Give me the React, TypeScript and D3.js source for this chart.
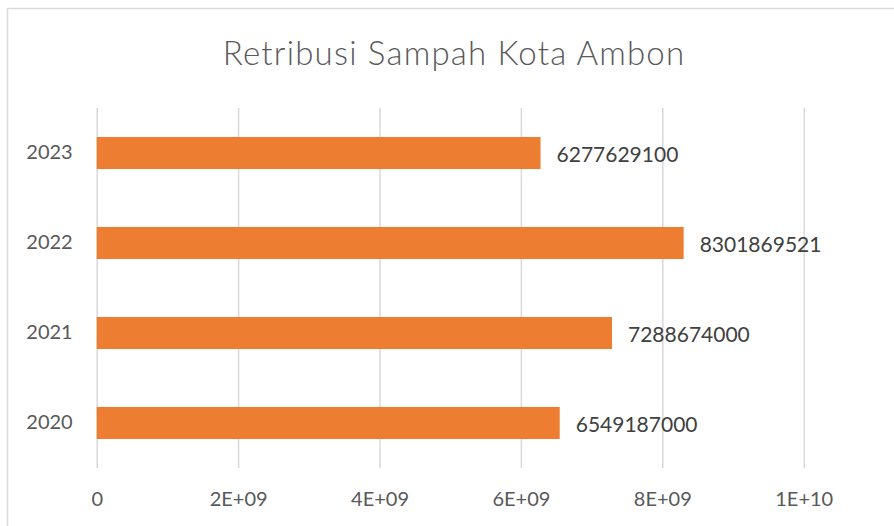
import { useRef, useEffect } from "react";
import { select, scaleLinear, scaleBand, axisBottom, axisLeft } from "d3";

const years = ["2023", "2022", "2021", "2020"];
const values = [6277629100, 8301869521, 7288674000, 6549187000];
const xTicks = [0, 2e9, 4e9, 6e9, 8e9, 1e10];
const xTickLabels = ["0", "2E+09", "4E+09", "6E+09", "8E+09", "1E+10"];

const WIDTH = 894;
const HEIGHT = 526;
const FONT = "Lato, 'Open Sans', sans-serif";
const TEXT = "#595959";
const GRID = "#d9d9d9";
const BAR = "#ed7d31";

export default function App() {
  const svgRef = useRef<SVGSVGElement>(null);

  useEffect(() => {
    const svg = select(svgRef.current);
    svg.selectAll("*").remove();

    const plot = { left: 96.7, right: 803.7, top: 108, bottom: 468 };

    // chart frame
    svg
      .append("rect")
      .attr("x", 7.5)
      .attr("y", 8.5)
      .attr("width", 1000)
      .attr("height", 1000)
      .attr("fill", "#fff")
      .attr("stroke", GRID)
      .attr("stroke-width", 1.5);

    svg
      .append("text")
      .attr("x", 454)
      .attr("y", 65)
      .attr("text-anchor", "middle")
      .attr("fill", TEXT)
      .attr("font-family", FONT)
      .attr("font-weight", 300)
      .attr("font-size", 33)
      .attr("letter-spacing", 1.2)
      .text("Retribusi Sampah Kota Ambon");

    const x = scaleLinear().domain([0, 1e10]).range([plot.left, plot.right]);
    const y = scaleBand<string>()
      .domain(years)
      .range([plot.top, plot.bottom])
      .paddingInner(0.644)
      .paddingOuter(0.322);

    // --- Gridlines + x labels ---
    svg
      .append("g")
      .attr("transform", `translate(0,${plot.bottom})`)
      .call(
        axisBottom(x)
          .tickValues(xTicks)
          .tickSize(plot.bottom - plot.top)
          .tickPadding(0)
          .tickFormat((_, i) => xTickLabels[i]),
      )
      .call((sel) => sel.select(".domain").remove())
      .call((sel) =>
        sel
          .selectAll(".tick line")
          .attr("stroke", GRID)
          .attr("stroke-width", 1.5)
          .attr("y1", 0)
          .attr("y2", -(plot.bottom - plot.top)),
      )
      .call((sel) =>
        sel
          .selectAll(".tick text")
          .attr("y", 31)
          .attr("dy", "0.35em")
          .attr("fill", TEXT)
          .attr("font-family", FONT)
          .attr("font-size", 20),
      );

    // --- y labels ---
    svg
      .append("g")
      .attr("transform", `translate(${plot.left},0)`)
      .call(axisLeft(y).tickSize(0).tickPadding(24))
      .call((sel) => sel.select(".domain").remove())
      .call((sel) =>
        sel
          .selectAll(".tick text")
          .attr("fill", TEXT)
          .attr("font-family", FONT)
          .attr("font-size", 20),
      );

    // --- Bars ---
    svg
      .append("g")
      .selectAll("rect")
      .data(values)
      .join("rect")
      .attr("x", x(0))
      .attr("y", (_, i) => y(years[i]) ?? 0)
      .attr("width", (d) => x(d) - x(0))
      .attr("height", y.bandwidth())
      .attr("fill", BAR);

    // --- Data labels ---
    svg
      .append("g")
      .selectAll("text")
      .data(values)
      .join("text")
      .attr("x", (d) => x(d) + 16)
      .attr("y", (_, i) => (y(years[i]) ?? 0) + y.bandwidth() / 2 + 2)
      .attr("dy", "0.35em")
      .attr("fill", "#404040")
      .attr("font-family", FONT)
      .attr("font-size", 21)
      .text((d) => `${d}`);
  }, []);

  return (
    <svg
      ref={svgRef}
      width={WIDTH}
      height={HEIGHT}
      style={{ position: "fixed", left: 0, top: 0, background: "#fff" }}
    />
  );
}
